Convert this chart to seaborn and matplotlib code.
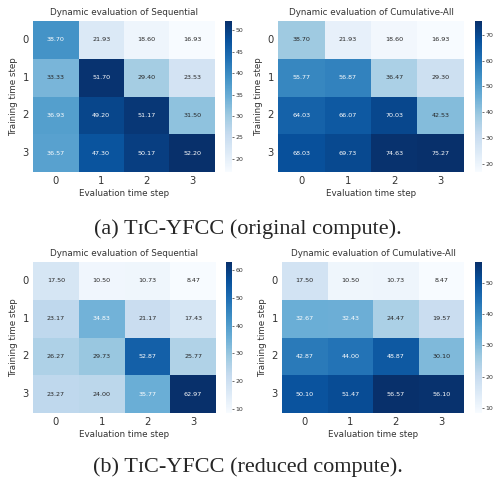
import numpy as np
import pandas as pd
import seaborn as sns
import matplotlib
matplotlib.use("Agg")
import matplotlib.pyplot as plt

steps = [0, 1, 2, 3]
seq_orig = [[38.70, 21.93, 18.60, 16.93],
            [33.33, 51.70, 29.40, 23.53],
            [36.93, 49.20, 51.17, 31.50],
            [36.57, 47.30, 50.17, 52.20]]
cum_orig = [[38.70, 21.93, 18.60, 16.93],
            [55.77, 56.87, 36.47, 29.30],
            [64.03, 66.07, 70.03, 42.53],
            [68.03, 69.73, 74.63, 75.27]]
seq_red = [[17.50, 10.50, 10.73, 8.47],
           [23.17, 34.83, 21.17, 17.43],
           [26.27, 29.73, 52.87, 25.77],
           [23.27, 24.00, 35.77, 62.97]]
cum_red = [[17.50, 10.50, 10.73, 8.47],
           [32.67, 32.43, 24.47, 19.57],
           [42.87, 44.00, 48.87, 30.10],
           [50.10, 51.47, 56.57, 56.10]]
titles = ["Dynamic evaluation of Sequential", "Dynamic evaluation of Cumulative-All"]
captions = ["(a) T\u026aC-YFCC (original compute).", "(b) T\u026aC-YFCC (reduced compute)."]

sns.set_style("white")
plt.rcParams['font.family'] = ['DejaVu Sans']

W, H = 495, 479
fig = plt.figure(figsize=(W / 100, H / 100), dpi=100)

def px(l, t, r, b):
    return [l / W, 1 - b / H, (r - l) / W, (b - t) / H]

layout = [
    (seq_orig, titles[0], (33, 21, 215, 172), (225, 21, 232, 172)),
    (cum_orig, titles[1], (278, 21, 464, 172), (475, 21, 482, 172)),
    (seq_red, titles[0], (33, 262, 216, 413), (226, 262, 232, 413)),
    (cum_red, titles[1], (282, 262, 464, 413), (475, 262, 482, 413)),
]

for data, title, hbox, cbox in layout:
    ax = fig.add_axes(px(*hbox))
    cax = fig.add_axes(px(*cbox))
    df = pd.DataFrame(data, index=steps, columns=steps)
    sns.heatmap(df, ax=ax, cbar_ax=cax, cmap="Blues", annot=True, fmt=".2f",
                annot_kws={"fontsize": 4.6})
    ax.set_title(title, fontsize=6.3, color="#333333", pad=4)
    ax.set_xlabel("Evaluation time step", fontsize=6.3, color="#333333", labelpad=2)
    ax.set_ylabel("Training time step", fontsize=6.3, color="#333333", labelpad=3)
    ax.tick_params(axis="both", labelsize=7.2, colors="#333333", length=0, pad=3)
    ax.set_yticklabels(ax.get_yticklabels(), rotation=0)
    cax.tick_params(labelsize=4.5, colors="#333333", length=1.5, width=0.5, pad=1)
    cax.set_frame_on(False)

fig.text(0.5, 1 - 229 / H, captions[0], ha="center", va="center", fontsize=16,
         family=["Liberation Serif", "DejaVu Serif"])
fig.text(0.5, 1 - 467 / H, captions[1], ha="center", va="center", fontsize=16,
         family=["Liberation Serif", "DejaVu Serif"])

fig.savefig("out.png", dpi=100)
